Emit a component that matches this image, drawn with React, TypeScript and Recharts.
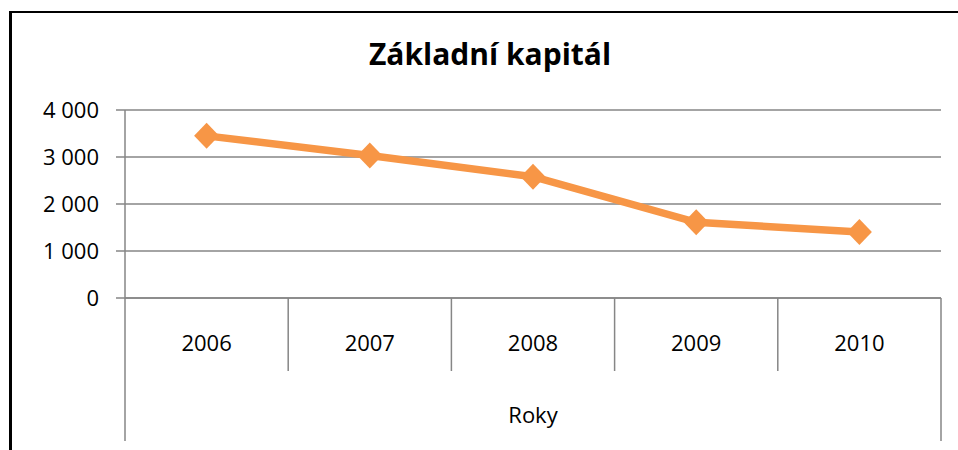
import { LineChart, Line, XAxis, YAxis, CartesianGrid, Label } from 'recharts'

const years = ['2006', '2007', '2008', '2009', '2010']
const capital = [3450, 3030, 2580, 1610, 1405]
const yTicks = [0, 1000, 2000, 3000, 4000]

const data = years.map((year, i) => ({ year, capital: capital[i] }))

const FONT = '"Open Sans", "Liberation Sans", sans-serif'
const ORANGE = '#F79646'
const GRID = '#868686'

const CHART_W = 958
const MARGIN = { top: 110, right: 17, bottom: 9, left: 0 }
const Y_AXIS_W = 125
// half of one category band, so points sit between the divider lines
const HALF_BAND = (CHART_W - MARGIN.right - Y_AXIS_W) / years.length / 2

// Czech style thousands separator: "4 000"
const fmt = (v: number) =>
  v < 1000 ? String(v) : `${Math.floor(v / 1000)} ${String(v % 1000).padStart(3, '0')}`

function Diamond({ cx, cy }: any) {
  if (cx == null || cy == null) return null
  return (
    <path
      d={`M${cx},${cy - 13} L${cx + 12.5},${cy} L${cx},${cy + 13} L${cx - 12.5},${cy} Z`}
      fill={ORANGE}
    />
  )
}

function YearTick(props: any) {
  const { x, y, payload } = props
  const isLast = payload?.value === years[years.length - 1]
  const isFirst = payload?.value === years[0]
  return (
    <g>
      <line
        x1={x - HALF_BAND}
        x2={x - HALF_BAND}
        y1={y}
        y2={y + (isFirst ? 143 : 73)}
        stroke={GRID}
        strokeWidth={1.5}
      />
      {isLast && (
        <line x1={x + HALF_BAND} x2={x + HALF_BAND} y1={y} y2={y + 143} stroke={GRID} strokeWidth={1.5} />
      )}
      <text x={x} y={y + 44} textAnchor="middle" dominantBaseline="central" fontSize={22} fontFamily={FONT} fill="#000">
        {payload.value}
      </text>
    </g>
  )
}

export default function App() {
  return (
    <div style={{ position: 'absolute', left: 0, top: 0, width: 958, height: 450, overflow: 'hidden', background: '#fff' }}>
      <div
        style={{
          position: 'absolute',
          left: 9,
          top: 11,
          width: 980,
          height: 480,
          borderLeft: '3px solid #000',
          borderTop: '2px solid #000',
        }}
      />
      <div
        style={{
          position: 'absolute',
          left: 0,
          width: 980,
          top: 34,
          textAlign: 'center',
          fontFamily: FONT,
          fontWeight: 700,
          fontSize: 30,
          lineHeight: '40px',
          color: '#000',
        }}
      >
        Základní kapitál
      </div>
      <div style={{ position: 'absolute', left: 0, top: 0 }}>
        <LineChart width={CHART_W} height={450} data={data} margin={MARGIN}>
          <CartesianGrid vertical={false} stroke={GRID} strokeWidth={1.5} />
          <XAxis
            dataKey="year"
            height={143}
            padding={{ left: HALF_BAND, right: HALF_BAND }}
            axisLine={{ stroke: GRID, strokeWidth: 1.5 }}
            tickLine={false}
            tickSize={0}
            tickMargin={0}
            tick={<YearTick />}
            interval={0}
          >
            <Label
              content={({ viewBox }: any) => (
                <text
                  x={viewBox.x + viewBox.width / 2}
                  y={viewBox.y + 116}
                  textAnchor="middle"
                  dominantBaseline="central"
                  fontSize={22}
                  fontFamily={FONT}
                  fill="#000"
                >
                  Roky
                </text>
              )}
            />
          </XAxis>
          <YAxis
            width={Y_AXIS_W}
            domain={[0, 4000]}
            ticks={yTicks}
            interval={0}
            tickFormatter={fmt}
            axisLine={{ stroke: GRID, strokeWidth: 1.5 }}
            tickLine={{ stroke: GRID, strokeWidth: 1.5 }}
            tickSize={9}
            tickMargin={17}
            tick={{ fontSize: 22, fontFamily: FONT, fill: '#000' }}
          />
          <Line
            dataKey="capital"
            stroke={ORANGE}
            strokeWidth={7.5}
            dot={<Diamond />}
            activeDot={false}
            isAnimationActive={false}
          />
        </LineChart>
      </div>
    </div>
  )
}
